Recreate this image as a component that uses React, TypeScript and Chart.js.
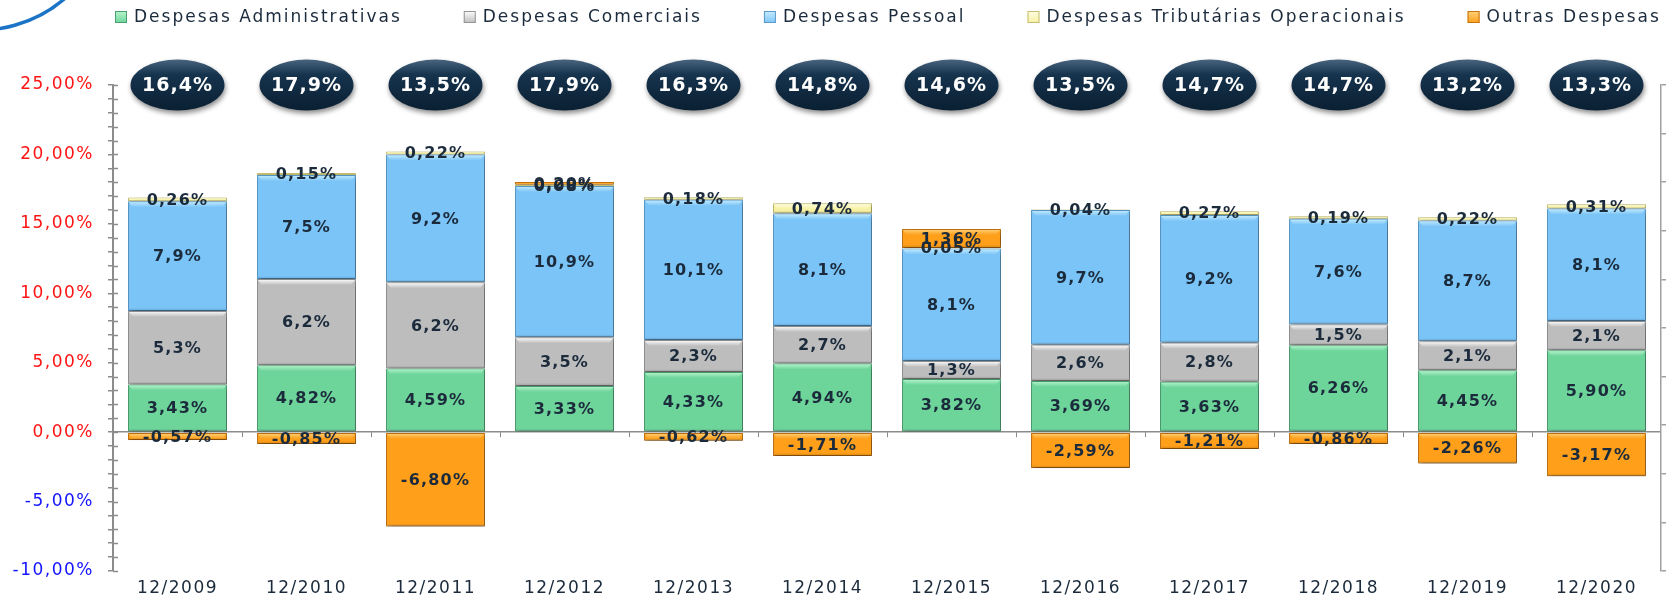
import { useEffect, useRef } from 'react';
import { Chart, registerables } from 'chart.js';

Chart.register(...registerables);

// ---------- data ----------
const categories = ['12/2009', '12/2010', '12/2011', '12/2012', '12/2013', '12/2014', '12/2015', '12/2016', '12/2017', '12/2018', '12/2019', '12/2020'];
const seriesNames = ['Despesas Administrativas', 'Despesas Comerciais', 'Despesas Pessoal', 'Despesas Tributárias Operacionais', 'Outras Despesas'];
const administrativas = [3.43, 4.82, 4.59, 3.33, 4.33, 4.94, 3.82, 3.69, 3.63, 6.26, 4.45, 5.90];
const comerciais = [5.3, 6.2, 6.2, 3.5, 2.3, 2.7, 1.3, 2.6, 2.8, 1.5, 2.1, 2.1];
const pessoal = [7.9, 7.5, 9.2, 10.9, 10.1, 8.1, 8.1, 9.7, 9.2, 7.6, 8.7, 8.1];
const tributarias = [0.26, 0.15, 0.22, 0.08, 0.18, 0.74, 0.05, 0.04, 0.27, 0.19, 0.22, 0.31];
const outras = [-0.57, -0.85, -6.80, 0.20, -0.62, -1.71, 1.36, -2.59, -1.21, -0.86, -2.26, -3.17];
const totalIndex = [16.4, 17.9, 13.5, 17.9, 16.3, 14.8, 14.6, 13.5, 14.7, 14.7, 13.2, 13.3];
const labelDecimals = [2, 1, 1, 2, 2];
const yMin = -10;
const yMax = 25;
const yStep = 1;
const yLabelStep = 5;
const indexLevel = 25;

// ---------- styles ----------
const palette = [
  { fill: '#6dd49a', border: '#4b9f70', light: '#b8f6cf' },
  { fill: '#bdbdbd', border: '#949494', light: '#ffffff' },
  { fill: '#7bc4f7', border: '#5a9bcb', light: '#c8eeff' },
  { fill: '#f6f1a2', border: '#c4bd72', light: '#fffde2' },
  { fill: '#ff9f1a', border: '#c47412', light: '#ffd37c' },
];
const AXIS = '#8c8c8c';
const TEXT = '#1b2b3c';

const fmt = (v: number, d: number) => v.toFixed(d).replace('.', ',') + '%';

const shadowPlugin = {
  id: 'barShadow',
  beforeDatasetsDraw(chart: any) {
    const ctx = chart.ctx;
    ctx.save();
    ctx.shadowColor = 'rgba(0,0,0,0.38)';
    ctx.shadowBlur = 5;
    ctx.shadowOffsetX = 2;
    ctx.shadowOffsetY = 2;
  },
  afterDatasetsDraw(chart: any) {
    const ctx = chart.ctx;
    ctx.restore();
    // bevel highlights
    chart.data.datasets.forEach((ds: any, di: number) => {
      const meta = chart.getDatasetMeta(di);
      const c = palette[di];
      meta.data.forEach((el: any) => {
        const { x, y, base, width } = el.getProps(['x', 'y', 'base', 'width'], true);
        const top = Math.min(y, base);
        const h = Math.abs(base - y);
        if (h < 2) return;
        const left = x - width / 2;
        const hh = Math.min(6, h - 1);
        const g = ctx.createLinearGradient(0, top, 0, top + hh);
        g.addColorStop(0, c.light);
        g.addColorStop(1, c.fill);
        ctx.save();
        ctx.fillStyle = g;
        ctx.beginPath();
        ctx.moveTo(left + 1, top + 1);
        ctx.lineTo(left + width - 1, top + 1);
        ctx.lineTo(left + width - 1 - hh * 0.6, top + hh);
        ctx.lineTo(left + 1 + hh * 0.6, top + hh);
        ctx.closePath();
        ctx.fill();
        const bh = Math.min(3, h / 3);
        const g2 = ctx.createLinearGradient(0, top + h - bh, 0, top + h);
        g2.addColorStop(0, 'rgba(0,0,0,0)');
        g2.addColorStop(1, 'rgba(0,0,0,0.18)');
        ctx.fillStyle = g2;
        ctx.fillRect(left + 1, top + h - bh, width - 2, bh);
        ctx.restore();
      });
    });
    // data labels
    ctx.save();
    ctx.font = 'bold 16px "DejaVu Sans"';
    (ctx as any).letterSpacing = '1.2px';
    ctx.textAlign = 'center';
    ctx.textBaseline = 'middle';
    ctx.fillStyle = TEXT;
    chart.data.datasets.forEach((ds: any, di: number) => {
      const meta = chart.getDatasetMeta(di);
      meta.data.forEach((el: any, i: number) => {
        const { x, y, base } = el.getProps(['x', 'y', 'base'], true);
        ctx.fillText(fmt(ds.data[i], labelDecimals[di]), x, (y + base) / 2 + 1);
      });
    });
    ctx.restore();
  },
};

const decorPlugin = {
  id: 'decor',
  beforeDraw(chart: any) {
    (chart.ctx as any).letterSpacing = '1.5px';
  },
  afterDraw(chart: any) {
    const ctx = chart.ctx;
    const area = chart.chartArea;
    const xs = chart.scales.x;
    const ys = chart.scales.y;
    ctx.save();
    (ctx as any).letterSpacing = '0px';
    // inner halves of the y ticks
    ctx.strokeStyle = AXIS;
    ctx.lineWidth = 1.5;
    ys.ticks.forEach((t: any) => {
      const py = Math.round(ys.getPixelForValue(t.value)) + 0.5;
      ctx.beginPath();
      ctx.moveTo(area.left, py);
      ctx.lineTo(area.left + 5, py);
      ctx.stroke();
    });
    // category boundary ticks below the zero line
    const y0 = ys.getPixelForValue(0);
    ctx.lineWidth = 1;
    for (let i = 1; i < categories.length; i++) {
      const px = Math.round((xs.getPixelForValue(i - 1) + xs.getPixelForValue(i)) / 2) + 0.5;
      ctx.beginPath();
      ctx.moveTo(px, y0);
      ctx.lineTo(px, y0 + 5);
      ctx.stroke();
    }
    // logo arc fragment
    ctx.strokeStyle = '#1b74c6';
    ctx.lineWidth = 3.5;
    ctx.beginPath();
    ctx.arc(-20, -100, 130, 0.8, 1.8);
    ctx.stroke();
    ctx.restore();

    // index ellipses
    const cy = ys.getPixelForValue(indexLevel);
    totalIndex.forEach((v, i) => {
      const cx = xs.getPixelForValue(i);
      const rx = 47, ry = 25.5;
      ctx.save();
      ctx.shadowColor = 'rgba(0,0,0,0.45)';
      ctx.shadowBlur = 5;
      ctx.shadowOffsetX = 1;
      ctx.shadowOffsetY = 3;
      const g = ctx.createLinearGradient(0, cy - ry, 0, cy + ry);
      g.addColorStop(0, '#48647e');
      g.addColorStop(0.3, '#16334d');
      g.addColorStop(1, '#0a1f32');
      ctx.fillStyle = g;
      ctx.beginPath();
      ctx.ellipse(cx, cy, rx, ry, 0, 0, Math.PI * 2);
      ctx.fill();
      ctx.restore();
      ctx.save();
      ctx.font = 'bold 19px "DejaVu Sans"';
      (ctx as any).letterSpacing = '1px';
      ctx.textAlign = 'center';
      ctx.textBaseline = 'middle';
      ctx.fillStyle = '#ffffff';
      ctx.fillText(fmt(v, 1), cx, cy + 1);
      ctx.restore();
    });

    // legend
    ctx.save();
    ctx.font = '17px "DejaVu Sans"';
    (ctx as any).letterSpacing = '2px';
    ctx.textAlign = 'left';
    ctx.textBaseline = 'middle';
    let lx = area.left + 2;
    const ly = 17;
    chart.data.datasets.forEach((ds: any, i: number) => {
      const c = palette[i];
      const g = ctx.createLinearGradient(0, ly - 6, 0, ly + 6);
      g.addColorStop(0, c.light);
      g.addColorStop(1, c.fill);
      ctx.fillStyle = g;
      ctx.fillRect(lx, ly - 6, 12, 12);
      ctx.strokeStyle = c.border;
      ctx.lineWidth = 1;
      ctx.strokeRect(lx + 0.5, ly - 5.5, 11, 11);
      ctx.fillStyle = TEXT;
      ctx.fillText(ds.label, lx + 19, ly + 1);
      lx += 19 + ctx.measureText(ds.label).width + 62;
    });
    ctx.restore();
  },
};

export default function App() {
  const ref = useRef<HTMLCanvasElement | null>(null);
  useEffect(() => {
    document.body.style.margin = '0';
    if (!ref.current) return;
    const series = [administrativas, comerciais, pessoal, tributarias, outras];
    const chart = new Chart(ref.current, {
      type: 'bar',
      data: {
        labels: categories,
        datasets: series.map((d, i) => ({
          label: seriesNames[i],
          data: d,
          backgroundColor: palette[i].fill,
          borderColor: palette[i].border,
          borderWidth: 1,
          borderSkipped: false,
          categoryPercentage: 1,
          barPercentage: 0.767,
          yAxisID: 'y',
        })),
      },
      options: {
        responsive: false,
        animation: false,
        layout: { padding: { top: 85, left: 0, right: 0, bottom: 0 } },
        plugins: {
          legend: { display: false },
          tooltip: { enabled: false },
          title: { display: false },
        },
        scales: {
          x: {
            stacked: true,
            grid: { display: false, drawTicks: false },
            border: { display: false },
            ticks: {
              color: TEXT,
              font: { family: 'DejaVu Sans', size: 17 },
              padding: 7,
              maxRotation: 0,
              autoSkip: false,
            },
            afterFit: (s: any) => { s.height = 26; },
          },
          y: {
            stacked: true,
            position: 'left',
            min: yMin,
            max: yMax,
            ticks: {
              stepSize: yStep,
              maxTicksLimit: 100,
              autoSkip: false,
              padding: 14,
              font: { family: 'DejaVu Sans', size: 17 },
              color: (c: any) => (c.tick.value < 0 ? '#1414ff' : '#ff1414'),
              callback: (v: any) => (Number(v) % yLabelStep === 0 ? fmt(Number(v), 2) : ''),
            },
            grid: {
              drawOnChartArea: true,
              color: (c: any) => (c.tick && c.tick.value === 0 ? AXIS : 'rgba(0,0,0,0)'),
              lineWidth: 1.5,
              tickColor: AXIS,
              tickLength: 5,
              tickWidth: 1.5,
            },
            border: { color: AXIS, width: 2 },
            afterFit: (s: any) => { s.width = 113; },
          },
          y2: {
            position: 'right',
            min: 0,
            max: 10,
            ticks: { stepSize: 1, display: false },
            grid: { drawOnChartArea: false, color: '#a0a0a0', tickLength: 5, lineWidth: 1.5 },
            border: { color: '#a0a0a0', width: 1.5 },
            afterFit: (s: any) => { s.width = 5; },
          },
        },
      },
      plugins: [shadowPlugin, decorPlugin],
    } as any);
    return () => chart.destroy();
  }, []);
  return (
    <div style={{ width: 1666, height: 597, position: 'relative', background: '#ffffff' }}>
      <canvas ref={ref} width={1666} height={597} style={{ display: 'block' }} />
    </div>
  );
}
